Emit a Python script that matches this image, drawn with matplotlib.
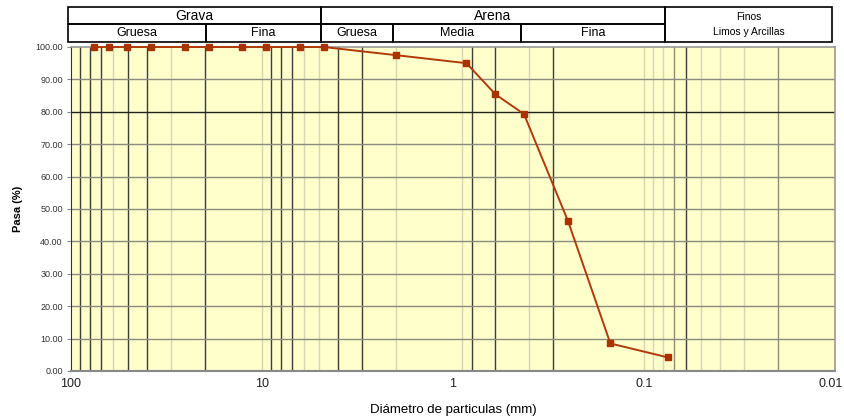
import numpy as np
import matplotlib.pyplot as plt
from matplotlib.patches import Rectangle
from matplotlib.ticker import FixedLocator, NullLocator

plt.rcParams['font.family'] = ['Liberation Sans', 'DejaVu Sans']

# Granulometria: abertura de tamiz (mm) y porcentaje que pasa
diametro = [76.2, 63.5, 50.8, 38.1, 25.4, 19.05, 12.7, 9.525, 6.35, 4.75,
            2.0, 0.85, 0.60, 0.425, 0.25, 0.15, 0.075]
pasa = [100.0, 100.0, 100.0, 100.0, 100.0, 100.0, 100.0, 100.0, 100.0, 100.0,
        97.5, 95.0, 85.4, 79.3, 46.3, 8.5, 4.2]

# Lineas verticales de la cuadricula (oscuras y claras)
lineas_oscuras = [90, 80, 70, 50, 40, 20, 9, 8, 7, 4, 3, 0.8, 0.6, 0.3, 0.06]
lineas_medias = [0.07, 0.02]
lineas_claras = [60, 30, 10, 6, 5, 2, 0.9, 0.4, 0.1, 0.09, 0.08, 0.05, 0.04, 0.03]

# Clasificacion del suelo (limites en mm)
grupos = [("Grava", 100, 4.75), ("Arena", 4.75, 0.075)]
subgrupos = [("Gruesa", 100, 19.05), ("Fina", 19.05, 4.75), ("Gruesa", 4.75, 2.0),
             ("Media", 2.0, 0.425), ("Fina", 0.425, 0.075)]
finos = ("Finos\nLimos y Arcillas", 0.075, 0.01)

fig = plt.figure(figsize=(8.45, 4.18), dpi=100)
ax = fig.add_axes([71/845, 1-371/418, 764/845, 324/418])
ax.set_facecolor('#ffffcc')
ax.set_xscale('log')
ax.set_xlim(100, 0.01)
ax.set_ylim(0, 100)

for v in lineas_claras:
    ax.axvline(v, color='#d6d6b4', lw=1.0, zorder=1)
for v in lineas_medias:
    ax.axvline(v, color='#8c8c78', lw=1.0, zorder=1)
for v in lineas_oscuras:
    ax.axvline(v, color='#3c3c3c', lw=1.0, zorder=1)
for h in range(10, 100, 10):
    ax.axhline(h, color='#222222' if h == 80 else '#8a8a80', lw=1.0, zorder=1)

ax.plot(diametro, pasa, color='#b03a0a', lw=1.4, marker='s', ms=4.5,
        markerfacecolor='#a83200', markeredgecolor='#a83200', zorder=3, clip_on=False)

ax.xaxis.set_major_locator(FixedLocator([100, 10, 1, 0.1, 0.01]))
ax.xaxis.set_minor_locator(NullLocator())
# la etiqueta 0.01 se dibuja aparte, un poco hacia dentro del borde
ax.set_xticklabels(['100', '10', '1', '0.1', ''])
ax.annotate('0.01', xy=(0.01, 0), xycoords=('data', 'axes fraction'),
            xytext=(-3, -5), textcoords='offset points', ha='center', va='top',
            fontsize=9, color='#222222')
ax.tick_params(axis='x', length=0, labelsize=9, pad=5, colors='#222222')
ax.set_yticks(np.arange(0, 101, 10))
ax.set_yticklabels(['%.2f' % v for v in np.arange(0, 101, 10)])
ax.tick_params(axis='y', length=3, width=0.8, color='#888888', labelsize=6.5,
               labelcolor='#333333', pad=3)

for s in ['top', 'right']:
    ax.spines[s].set_color('#999999')
    ax.spines[s].set_linewidth(1.2)
ax.spines['left'].set_color('#333333')
ax.spines['bottom'].set_color('#888888')
ax.spines['bottom'].set_linewidth(1.5)

ax.set_xlabel('Diámetro de particulas (mm)', fontsize=9.5, labelpad=10)
ax.set_ylabel('Pasa (%)', fontsize=8, fontweight='bold', labelpad=9)

# Cabecera con la clasificacion
hx = fig.add_axes([68/845, 1-42/418, 764/845, 35/418])
hx.set_xscale('log')
hx.set_xlim(100, 0.01)
hx.set_ylim(0, 2)
hx.axis('off')

def caja(x0, x1, y0, y1, texto, size):
    hx.add_patch(Rectangle((x0, y0), x1 - x0, y1 - y0, fill=False,
                           edgecolor='black', lw=1.2, clip_on=False))
    xm = np.sqrt(x0 * x1)
    hx.text(xm, (y0 + y1) / 2, texto, ha='center', va='center', fontsize=size,
            linespacing=1.6)

for nombre, a, b in grupos:
    caja(a, b, 1, 2, nombre, 10)
for nombre, a, b in subgrupos:
    caja(a, b, 0, 1, nombre, 9)
caja(finos[1], finos[2], 0, 2, finos[0], 7.5)

fig.savefig('out.png', dpi=100)
